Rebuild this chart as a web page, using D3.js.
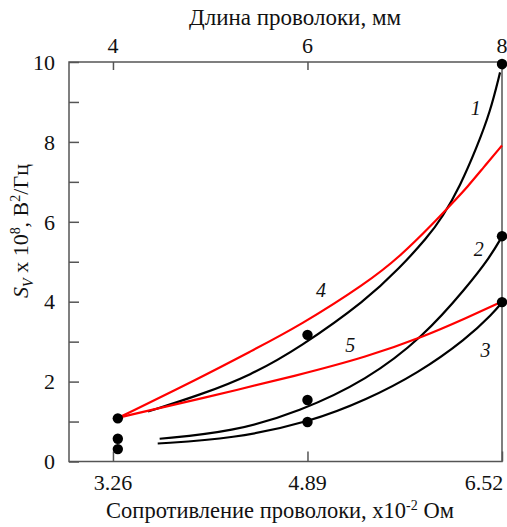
<!DOCTYPE html>
<html>
<head>
<meta charset="utf-8">
<style>
  body { margin: 0; background: #fff; }
  text { font-family: "Liberation Serif", "Times New Roman", serif; fill: #111; }
  .axis path, .axis line { stroke: #555; stroke-width: 1.5; }
  .axis text { font-size: 22px; font-family: "Liberation Serif", serif; fill: #111; }
</style>
<script src="https://d3js.org/d3.v7.min.js"></script>
</head>
<body>
<div id="chart"></div>
<script>
// wire length (mm) is the x variable, resistance = 0.815 * length
var lengthTicks = [4, 6, 8];
var resistTicks = [3.26, 4.89, 6.52];
var yTicks = [0, 1, 2, 3, 4, 5, 6, 7, 8, 9, 10];

// measured points
var dotsX = [4.05, 4.05, 4.05, 6.0, 6.0, 6.0, 8.0, 8.0, 8.0];
var dotsY = [1.08, 0.57, 0.31, 3.17, 1.54, 0.99, 9.95, 5.64, 3.99];

// fitted curves 1-3 (black) and 4-5 (red)
var curve1 = [[4.36, 1.25], [4.90, 1.67], [5.41, 2.15], [5.92, 2.85], [6.61, 4.05],
              [6.95, 4.85], [7.23, 5.60], [7.39, 6.12], [7.57, 6.90], [7.74, 7.86], [7.88, 8.76], [7.98, 9.74]];
var curve2 = [[4.48, 0.57], [5.23, 0.74], [5.92, 1.25], [6.61, 2.04], [7.19, 3.12], [7.64, 4.37], [7.88, 5.13], [8.0, 5.63]];
var curve3 = [[4.46, 0.45], [5.23, 0.57], [6.03, 0.99], [6.61, 1.55], [7.13, 2.2], [7.64, 3.08], [7.91, 3.72], [8.0, 3.98]];
var curve4 = [[4.06, 1.10], [4.90, 2.10], [5.41, 2.75], [5.92, 3.40], [6.61, 4.47], [6.95, 5.13],
              [7.29, 5.95], [7.52, 6.55], [7.64, 6.86], [7.81, 7.36], [8.0, 7.91]];
var curve5 = [[4.06, 1.10], [4.90, 1.57], [5.92, 2.17], [6.61, 2.62], [7.19, 3.12], [7.64, 3.60], [8.0, 4.0]];

var curveNames = ["1", "2", "3", "4", "5"];
var labelX = [7.73, 7.76, 7.83, 6.14, 6.44];
var labelY = [8.85, 5.32, 2.79, 4.29, 2.92];

var W = 507, H = 527;
var pLeft = 69, pRight = 502, pTop = 62, pBottom = 461.5;

var svg = d3.select("#chart").append("svg")
    .attr("width", W)
    .attr("height", H);

var x = d3.scaleLinear().domain([3.548, 8]).range([pLeft, pRight]);
var xr = d3.scaleLinear().domain([3.548 * 0.815, 8 * 0.815]).range([pLeft, pRight]);
var y = d3.scaleLinear().domain([0, 10]).range([pBottom, pTop]);

// frame
svg.append("rect")
    .attr("x", pLeft).attr("y", pTop)
    .attr("width", pRight - pLeft).attr("height", pBottom - pTop)
    .attr("fill", "none").attr("stroke", "#555").attr("stroke-width", 1.5);

// left axis, ticks pointing inward
var yAxis = svg.append("g").attr("class", "axis")
    .attr("transform", "translate(" + pLeft + ",0)")
    .call(d3.axisRight(y).tickValues(yTicks).tickSize(10).tickFormat(""));
yAxis.select(".domain").remove();
svg.append("g").attr("class", "axis")
    .selectAll("text")
    .data(yTicks.filter(function(d) { return d % 2 == 0; }))
    .enter().append("text")
    .attr("x", pLeft - 14)
    .attr("y", function(d) { return y(d); })
    .attr("dy", "0.35em")
    .attr("text-anchor", "end")
    .text(function(d) { return d; });

// bottom axis (resistance)
var bAxis = svg.append("g").attr("class", "axis")
    .attr("transform", "translate(0," + pBottom + ")")
    .call(d3.axisTop(xr).tickValues(resistTicks).tickSize(10).tickFormat(""));
bAxis.select(".domain").remove();
svg.append("g").attr("class", "axis")
    .selectAll("text")
    .data(resistTicks)
    .enter().append("text")
    .attr("x", function(d, i) { return xr(d) + (i == 2 ? -18 : 0); })
    .attr("y", 490)
    .attr("text-anchor", "middle")
    .text(function(d) { return d3.format(".2f")(d); });

// top axis (length)
var tAxis = svg.append("g").attr("class", "axis")
    .attr("transform", "translate(0," + pTop + ")")
    .call(d3.axisBottom(x).tickValues(lengthTicks).tickSize(8).tickFormat(""));
tAxis.select(".domain").remove();
svg.append("g").attr("class", "axis")
    .selectAll("text")
    .data(lengthTicks)
    .enter().append("text")
    .attr("x", function(d) { return x(d); })
    .attr("y", 53)
    .attr("text-anchor", "middle")
    .text(function(d) { return d; });

// titles
svg.append("text")
    .attr("x", 295).attr("y", 25)
    .attr("text-anchor", "middle")
    .attr("font-size", "23px")
    .text("Длина проволоки, мм");

var bt = svg.append("text")
    .attr("x", 280).attr("y", 518)
    .attr("text-anchor", "middle")
    .attr("font-size", "22.5px");
bt.append("tspan").text("Сопротивление проволоки, x10");
bt.append("tspan").attr("dy", -8).attr("font-size", "14px").text("-2");
bt.append("tspan").attr("dy", 8).text(" Ом");

var yt = svg.append("text")
    .attr("transform", "translate(28,231) rotate(-90)")
    .attr("text-anchor", "middle")
    .attr("font-size", "22px");
yt.append("tspan").attr("font-style", "italic").text("S");
yt.append("tspan").attr("font-style", "italic").attr("font-size", "14px").attr("dy", 5).text("V");
yt.append("tspan").attr("dy", -5).text(" x 10");
yt.append("tspan").attr("font-size", "14px").attr("dy", -8).text("8");
yt.append("tspan").attr("dy", 8).text(", В");
yt.append("tspan").attr("font-size", "14px").attr("dy", -8).text("2");
yt.append("tspan").attr("dy", 8).text("/Гц");

// curves
var line = d3.line()
    .x(function(d) { return x(d[0]); })
    .y(function(d) { return y(d[1]); })
    .curve(d3.curveBasis);

var curves = [curve1, curve2, curve3, curve4, curve5];
var colors = ["#000", "#000", "#000", "#ff0000", "#ff0000"];

svg.selectAll(".fit")
    .data(curves)
    .enter().append("path")
    .attr("class", "fit")
    .attr("d", line)
    .attr("fill", "none")
    .attr("stroke", function(d, i) { return colors[i]; })
    .attr("stroke-width", 2.2);

// dots
svg.selectAll(".dot")
    .data(dotsX)
    .enter().append("circle")
    .attr("class", "dot")
    .attr("cx", function(d) { return x(d); })
    .attr("cy", function(d, i) { return y(dotsY[i]); })
    .attr("r", 5.2)
    .attr("fill", "#000");

// curve numbers
svg.selectAll(".num")
    .data(curveNames)
    .enter().append("text")
    .attr("class", "num")
    .attr("x", function(d, i) { return x(labelX[i]); })
    .attr("y", function(d, i) { return y(labelY[i]); })
    .attr("dy", "0.35em")
    .attr("text-anchor", "middle")
    .attr("font-size", "20px")
    .attr("font-style", "italic")
    .text(function(d) { return d; });
</script>
</body>
</html>
